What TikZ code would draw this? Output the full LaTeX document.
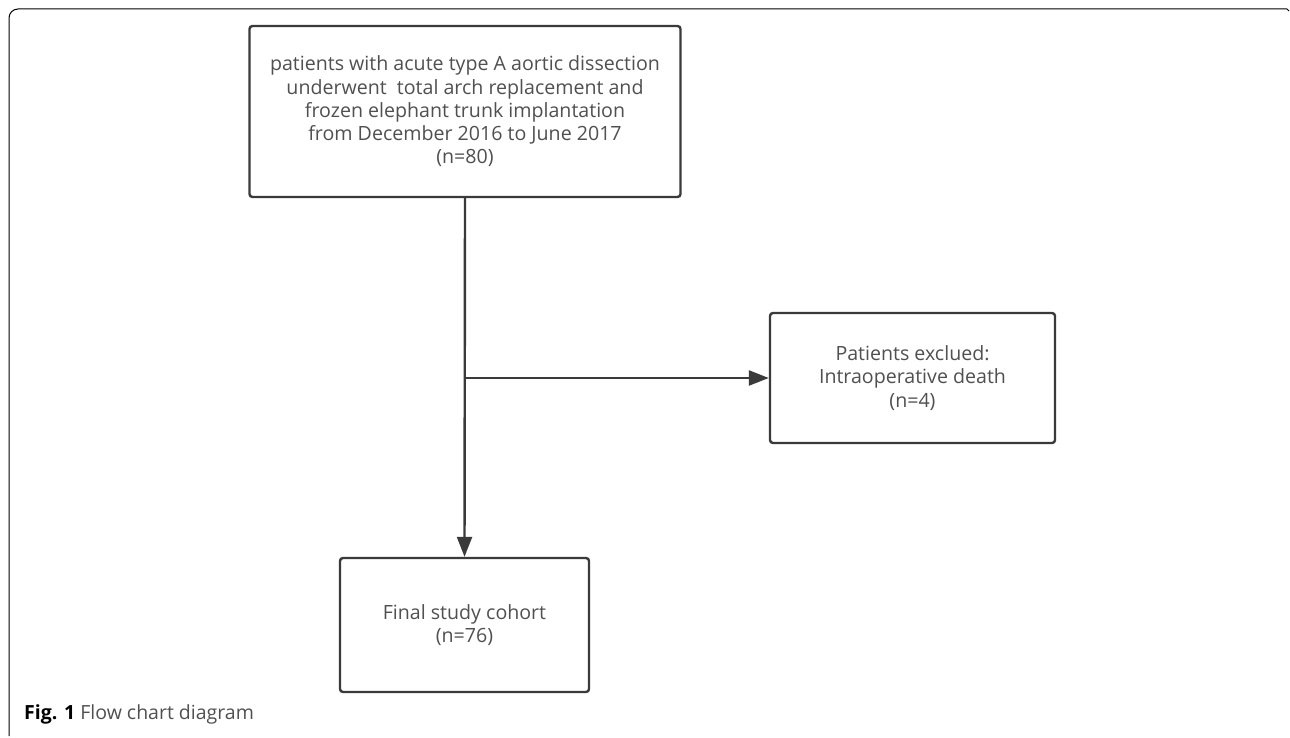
\documentclass[tikz,border=0pt]{standalone}
\usepackage{fontspec}
\setmainfont{Open Sans}
\usetikzlibrary{arrows.meta}
\definecolor{boxline}{HTML}{3A3A3A}
\definecolor{txt}{HTML}{505050}
\tikzset{
  x=1pt, y=-1pt,
  flowbox/.style={draw=boxline, line width=2.4pt, rounded corners=3pt, fill=white,
    font=\fontsize{19.6}{23.3}\selectfont, text=txt, align=center, inner sep=0pt},
  flowarrow/.style={draw=boxline, line width=2.4pt, -{Triangle[length=20pt,width=15pt]}},
  frame/.style={draw=black, line width=1pt}
}
\begin{document}
\begin{tikzpicture}
\useasboundingbox (0,0) rectangle (1290,738);
% outer frame
\draw[frame, rounded corners=9pt] (9,736) -- (9,9) -- (1287,9);
\draw[frame] (1287,9) -- (1289,11);
% boxes
\node[flowbox, minimum width=431pt, minimum height=171pt] (top) at (465,111.5)
  {patients with acute type A aortic dissection\\underwent\ \ total arch replacement and\\frozen elephant trunk implantation\\from December 2016 to June 2017\\(n=80)};
\node[flowbox, minimum width=285pt, minimum height=130pt] (excl) at (912.5,378)
  {Patients exclued:\\Intraoperative death\\(n=4)};
\node[flowbox, minimum width=249pt, minimum height=134pt] (final) at (464.5,625)
  {Final study cohort\\(n=76)};
% connectors
\coordinate (j) at (top.south |- excl.west);
\draw[flowarrow] (top.south) -- (final.north);
\draw[flowarrow] (j) -- (excl.west);
% caption
\node[anchor=base west, inner sep=0pt, font=\fontsize{19.5}{22}\selectfont, text=black] (cap) at (24,719)
  {\textbf{Fig. 1} \color{txt}Flow chart diagram};
\end{tikzpicture}
\end{document}
